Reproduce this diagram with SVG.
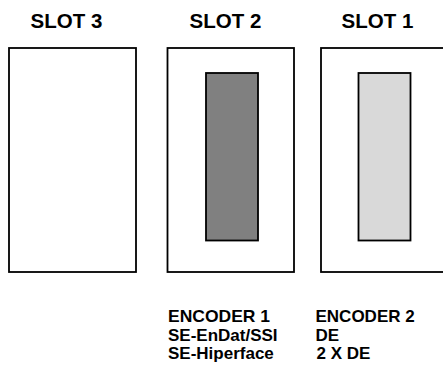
<svg xmlns="http://www.w3.org/2000/svg" width="443" height="369" viewBox="0 0 443 369">
<style>
.t{font-family:"Liberation Sans",Arial,sans-serif;font-weight:bold;fill:#000}
.h{font-size:20.5px;text-anchor:middle}
.l{font-size:17px}
.box{fill:#fff;stroke:#000;stroke-width:1.8}
.enc{stroke:#000;stroke-width:1.8}
</style>
<rect width="443" height="369" fill="#fff"/>
<g id="slot3">
<text class="t h" x="66.5" y="28">SLOT 3</text>
<rect class="box" x="9" y="48" width="127" height="224"/>
</g>
<g id="slot2">
<text class="t h" x="225.5" y="28">SLOT 2</text>
<rect class="box" x="167.5" y="48" width="126.5" height="224"/>
<rect class="enc" x="206" y="73" width="52" height="167.5" fill="#808080"/>
</g>
<g id="slot1">
<text class="t h" x="377.5" y="28">SLOT 1</text>
<rect class="box" x="321" y="48" width="130" height="224"/>
<rect class="enc" x="358.5" y="73" width="52" height="167.5" fill="#d9d9d9"/>
</g>
<g id="encoder1">
<text class="t l" x="168" y="322" textLength="102" lengthAdjust="spacingAndGlyphs">ENCODER 1</text>
<text class="t l" x="168" y="340.5">SE-EnDat/SSI</text>
<text class="t l" x="168" y="359">SE-Hiperface</text>
</g>
<g id="encoder2">
<text class="t l" x="315.5" y="322">ENCODER 2</text>
<text class="t l" x="315.5" y="340.5">DE</text>
<text class="t l" x="316.5" y="359">2 X DE</text>
</g>
<g id="connectors"/>
</svg>
